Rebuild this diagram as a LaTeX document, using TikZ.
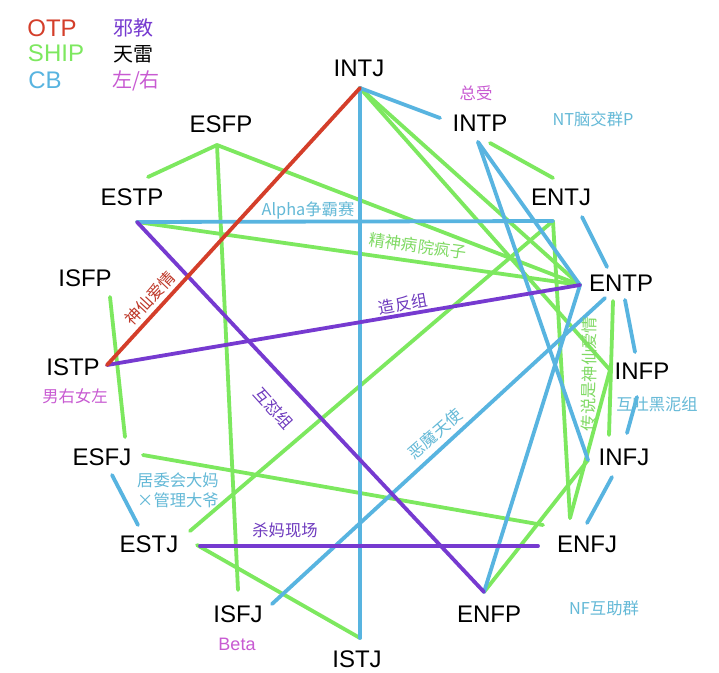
\documentclass[tikz,border=0pt]{standalone}
\usepackage{fontspec}
\setmainfont{Liberation Sans}
\newfontfamily\cjk{Noto Sans CJK SC}
\definecolor{cgreen}{RGB}{125,232,95}
\definecolor{cblue}{RGB}{88,180,224}
\definecolor{cpurple}{RGB}{118,58,208}
\definecolor{cred}{RGB}{212,62,42}
\definecolor{tmag}{RGB}{200,90,210}
\definecolor{tblue}{RGB}{100,185,215}
\definecolor{tgreen}{RGB}{128,218,100}
\definecolor{tpurple}{RGB}{110,58,190}
\definecolor{tred}{RGB}{190,55,40}
\begin{document}
\begin{tikzpicture}[x=1pt,y=-1pt,
  mb/.style={inner sep=0pt, font=\fontsize{24}{24}\selectfont},
  legl/.style={inner sep=0pt, font=\fontsize{24}{24}\selectfont},
  legc/.style={inner sep=0pt, font=\cjk\fontsize{20}{20}\selectfont},
  tag/.style={inner sep=0pt, font=\cjk\fontsize{16.3}{20}\selectfont},
  ln/.style={line width=3.8pt, line cap=round},
  otp/.style={ln, cred},
  ship/.style={ln, cgreen},
  cb/.style={ln, cblue},
  cult/.style={ln, cpurple}]
\useasboundingbox (0,0) rectangle (719,672);
\fill[white] (0,0) rectangle (719,672);

% type labels
\node[mb] (INTJ) at (359,68) {INTJ};
\node[mb] (INTP) at (480,123) {INTP};
\node[mb] (ENTJ) at (561,197) {ENTJ};
\node[mb] (ENTP) at (621,283) {ENTP};
\node[mb] (INFP) at (642,371) {INFP};
\node[mb] (INFJ) at (624,457) {INFJ};
\node[mb] (ENFJ) at (587,544) {ENFJ};
\node[mb] (ENFP) at (489,614) {ENFP};
\node[mb] (ISTJ) at (357,659) {ISTJ};
\node[mb] (ISFJ) at (238,614) {ISFJ};
\node[mb] (ESTJ) at (149,544) {ESTJ};
\node[mb] (ESFJ) at (102,457) {ESFJ};
\node[mb] (ISTP) at (73,367) {ISTP};
\node[mb] (ISFP) at (85,278) {ISFP};
\node[mb] (ESTP) at (132,197) {ESTP};
\node[mb] (ESFP) at (221,124) {ESFP};

% connector end points
\coordinate (INTJa) at (360,88);
\coordinate (INTPa) at (440,118);
\coordinate (INTPb) at (478,142);
\coordinate (INTPc) at (490,143);
\coordinate (ENTJa) at (553,178);
\coordinate (ENTJb) at (553,221);
\coordinate (ENTJc) at (582,217);
\coordinate (ENTPa) at (580,285);
\coordinate (ENTPb) at (607,267);
\coordinate (ENTPc) at (605,298);
\coordinate (ENTPd) at (613,301);
\coordinate (ENTPe) at (625,300);
\coordinate (INFPa) at (610,370);
\coordinate (INFPb) at (635,352);
\coordinate (INFPc) at (637,397);
\coordinate (INFJa) at (588,460);
\coordinate (INFJb) at (609,435);
\coordinate (INFJc) at (627,433);
\coordinate (INFJd) at (612,477);
\coordinate (ENFJa) at (570,518);
\coordinate (ENFJb) at (543,525);
\coordinate (ENFJc) at (538,546);
\coordinate (ENFJd) at (587,523);
\coordinate (ENFPa) at (484,592);
\coordinate (ISTJa) at (360,638);
\coordinate (ISFJa) at (238,590);
\coordinate (ISFJb) at (272,604);
\coordinate (ESTJa) at (190,531);
\coordinate (ESTJb) at (200,546);
\coordinate (ESTJc) at (197,545);
\coordinate (ESTJd) at (138,525);
\coordinate (ESFJa) at (143,455);
\coordinate (ESFJb) at (125,437);
\coordinate (ESFJc) at (112,475);
\coordinate (ISTPa) at (107,365);
\coordinate (ISFPa) at (110,297);
\coordinate (ESTPa) at (148,177);
\coordinate (ESTPb) at (137,222);
\coordinate (ESFPa) at (217,145);

% SHIP (green)
\draw[ship] (ESFPa) -- (ESTPa);
\draw[ship] (ESFPa) -- (ISFJa);
\draw[ship] (ESFPa) -- (ENTPa);
\draw[ship] (ESTPb) -- (ENTPa);
\draw[ship] (INTJa) -- (ENTPa);
\draw[ship] (INTJa) -- (INFPa);
\draw[ship] (INTPc) -- (ENTJa);
\draw[ship] (ENTJb) -- (ESTJa);
\draw[ship] (ENTJb) -- (ENFJa);
\draw[ship] (ENFJa) -- (INFPa);
\draw[ship] (ENTPd) -- (INFJb);
\draw[ship] (ENFPa) -- (INFJa);
\draw[ship] (ESFJa) -- (ENFJb);
\draw[ship] (ISFPa) -- (ESFJb);
\draw[ship] (ESTJc) -- (ISTJa);

% CB (blue)
\draw[cb] (INTJa) -- (ISTJa);
\draw[cb] (INTJa) -- (INTPa);
\draw[cb] (ESTPb) -- (ENTJb);
\draw[cb] (ENTJc) -- (ENTPb);
\draw[cb] (INTPb) -- (ENTPa);
\draw[cb] (INTPb) -- (INFJa);
\draw[cb] (ENFPa) -- (ENTPa);
\draw[cb] (ISFJb) -- (ENTPc);
\draw[cb] (ESFJc) -- (ESTJd);
\draw[cb] (ENTPe) -- (INFPb);
\draw[cb] (INFPc) -- (INFJc);
\draw[cb] (INFJd) -- (ENFJd);

% cult (purple)
\draw[cult] (ESTPb) -- (ENFPa);
\draw[cult] (ISTPa) -- (ENTPa);
\draw[cult] (ESTJb) -- (ENFJc);

% OTP (red)
\draw[otp] (INTJa) -- (ISTPa);

% legend
\node[legl, text=cred] (lgOTP) at (52,28) {OTP};
\node[legl, text=cgreen] (lgSHIP) at (56,53) {SHIP};
\node[legl, text=cblue] (lgCB) at (45,80) {CB};
\node[legc, text=cpurple] (lgcult) at (133,28) {邪教};
\node[legc, text=black] (lgbad) at (133,54) {天雷};
\node[legc, text=tmag] (lglr) at (136,81) {左/右};

% tags
\node[tag, text=tmag] (t1) at (476,93) {总受};
\node[tag, text=tblue] (t2) at (593,119) {NT脑交群P};
\node[tag, text=tblue] (t3) at (308,210) {Alpha争霸赛};
\node[tag, text=tgreen, rotate=-8] (t4) at (418,246) {精神病院疯子};
\node[tag, text=tpurple, rotate=10] (t5) at (403,304) {造反组};
\node[tag, text=tred, rotate=47] (t6) at (150,298) {神仙爱情};
\node[tag, text=tmag] (t7) at (75,396) {男右女左};
\node[tag, text=tpurple, rotate=-48] (t8) at (274,408) {互怼组};
\node[tag, text=tblue, rotate=41] (t9) at (435,434) {恶魔天使};
\node[tag, text=tgreen, rotate=89] (t10) at (589,374) {传说是神仙爱情};
\node[tag, text=tblue] (t11) at (657,404) {互吐黑泥组};
\node[tag, text=tblue, align=left, anchor=west] (t12) at (137,490) {居委会大妈\\×管理大爷};
\node[tag, text=tpurple] (t13) at (285,530) {杀妈现场};
\node[tag, text=tblue] (t14) at (604,608) {NF互助群};
\node[tag, text=tmag, font=\fontsize{18}{18}\selectfont] (t15) at (237,644) {Beta};
\end{tikzpicture}
\end{document}
